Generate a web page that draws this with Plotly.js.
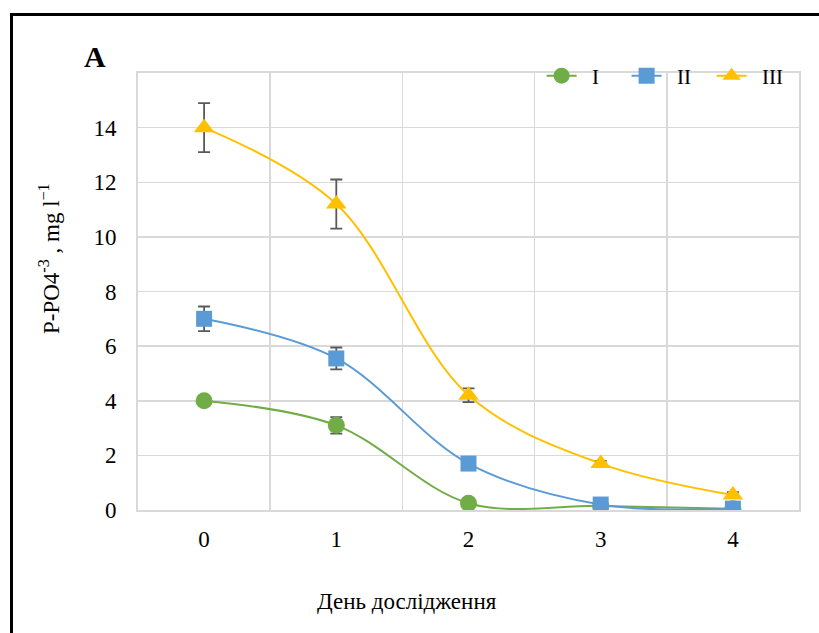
<!DOCTYPE html>
<html>
<head>
<meta charset="utf-8">
<script src="https://cdn.plot.ly/plotly-3.0.1.min.js"></script>
<style>
  html, body { margin: 0; padding: 0; background: #fff; }
  #wrap { position: relative; width: 819px; height: 633px; overflow: hidden; }
  #chart { width: 819px; height: 633px; }
  #frame { position: absolute; left: 10px; top: 13px; width: 830px; height: 640px;
           border-left: 3px solid #000; border-top: 3px solid #000; pointer-events: none; }
</style>
</head>
<body>
<div id="wrap"><div id="chart"></div><div id="frame"></div></div>
<script>
const days = [0, 1, 2, 3, 4];
const dayLabels = ['0', '1', '2', '3', '4'];
const seriesNames = ['I', 'II', 'III'];
const valuesI   = [4.0, 3.1, 0.25, 0.15, 0.05];
const errorsI   = [0.1, 0.3, 0.05, 0.05, 0.02];
const valuesII  = [7.0, 5.55, 1.7, 0.2, 0.05];
const errorsII  = [0.45, 0.4, 0.1, 0.05, 0.02];
const valuesIII = [14.0, 11.2, 4.2, 1.7, 0.55];
const errorsIII = [0.9, 0.9, 0.25, 0.1, 0.1];
const yTicks = [0, 2, 4, 6, 8, 10, 12, 14];
const xTitle = 'День дослідження';
const yTitle = 'P-PO4<sup>-3</sup> , mg l<sup>−1</sup>';
const panelLabel = 'A';

const colors = ['#70ad47', '#5b9bd5', '#ffc000'];
const symbols = ['circle', 'square', 'triangle-up'];
const sizes = [17, 16, 18];
const vals = [valuesI, valuesII, valuesIII];
const errs = [errorsI, errorsII, errorsIII];
const pad = '\u00a0\u00a0';

const traces = vals.map((v, i) => ({
  x: days, y: v, name: pad + seriesNames[i], type: 'scatter', mode: 'lines+markers',
  line: { color: colors[i], width: 2, shape: 'spline', smoothing: 1 },
  marker: { color: colors[i], symbol: symbols[i], size: sizes[i] },
  error_y: { type: 'data', array: errs[i], visible: true, color: '#595959', thickness: 1.8, width: 6 }
}));

const font = 'Liberation Serif';
const layout = {
  width: 819, height: 633,
  margin: { l: 138, r: 20, t: 73, b: 123 },
  paper_bgcolor: '#fff', plot_bgcolor: '#fff',
  font: { family: font, size: 21, color: '#000' },
  showlegend: true,
  legend: { orientation: 'h', x: 0.6106, xanchor: 'left', y: 0.993, yanchor: 'middle',
            entrywidth: 40, entrywidthmode: 'pixels',
            font: { family: font, size: 21, color: '#000' }, bgcolor: 'rgba(0,0,0,0)', tracegroupgap: 0 },
  xaxis: {
    range: [-0.5, 4.5], tickvals: days, ticktext: dayLabels,
    showgrid: false, zeroline: false,
    showline: true, mirror: true, linecolor: '#d9d9d9', linewidth: 2,
    ticks: 'outside', ticklen: 7, tickcolor: 'rgba(0,0,0,0)',
    tickfont: { family: font, size: 23 },
    minor: { tick0: 0.5, dtick: 1, showgrid: true, gridcolor: '#d9d9d9', gridwidth: 1.5, ticks: '' }
  },
  yaxis: {
    range: [0, 16], tickvals: yTicks,
    showgrid: true, gridcolor: '#d9d9d9', gridwidth: 1.5, zeroline: false,
    showline: true, mirror: true, linecolor: '#d9d9d9', linewidth: 2,
    ticks: 'outside', ticklen: 15, tickcolor: 'rgba(0,0,0,0)',
    tickfont: { family: font, size: 23 }
  },
  annotations: [
    { text: '<b>' + panelLabel + '</b>', xref: 'paper', yref: 'paper', x: -0.065, y: 1.037,
      xanchor: 'center', yanchor: 'middle', showarrow: false,
      font: { family: font, size: 30, color: '#000' } },
    { text: xTitle, xref: 'paper', yref: 'paper', x: (407 - 138) / 661, y: (510 - 601) / 437,
      xanchor: 'center', yanchor: 'middle', showarrow: false,
      font: { family: font, size: 23, color: '#000' } },
    { text: yTitle, xref: 'paper', yref: 'paper', x: (49 - 138) / 661, y: (510 - 258) / 437,
      xanchor: 'center', yanchor: 'middle', showarrow: false, textangle: -90,
      font: { family: font, size: 23, color: '#000' } }
  ]
};

Plotly.newPlot('chart', traces, layout, { displayModeBar: false, staticPlot: true });
</script>
</body>
</html>
